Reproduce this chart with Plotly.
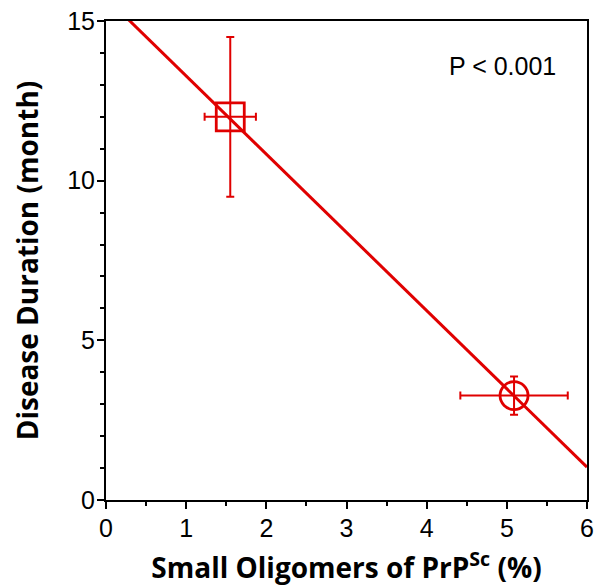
import plotly.graph_objects as go

# Data
group_x = [1.55, 5.09]          # small oligomers of PrPSc (%)
group_y = [12.0, 3.27]          # disease duration (month)
group_x_err = [0.32, 0.67]
group_y_err = [2.5, 0.6]
group_symbols = ["square-open", "circle-open"]

fit_slope = -2.45
fit_intercept = 15.73
fit_x = [0.0, 6.0]

x_ticks = [0, 1, 2, 3, 4, 5, 6]
y_ticks = [0, 5, 10, 15]

RED = "#e00000"

fig = go.Figure()

fig.add_trace(go.Scatter(
    x=fit_x,
    y=[fit_intercept + fit_slope * v for v in fit_x],
    mode="lines",
    line=dict(color=RED, width=3),
    showlegend=False,
    hoverinfo="skip",
))

for i in range(len(group_x)):
    fig.add_trace(go.Scatter(
        x=[group_x[i]], y=[group_y[i]],
        mode="markers",
        marker=dict(symbol=group_symbols[i], size=28,
                    color=RED, line=dict(color=RED, width=2.8)),
        error_x=dict(type="data", array=[group_x_err[i]], color=RED,
                     thickness=2, width=4),
        error_y=dict(type="data", array=[group_y_err[i]], color=RED,
                     thickness=2, width=4),
        showlegend=False,
        cliponaxis=False,
    ))

fig.add_annotation(
    x=0.94, y=0.94, xref="paper", yref="paper",
    xanchor="right", yanchor="top",
    text="P < 0.001", showarrow=False,
    font=dict(family="Liberation Sans, Arial", size=25, color="black"),
)

axis_common = dict(
    showline=True, linecolor="black", linewidth=2, mirror=True,
    ticks="outside", tickcolor="black", tickwidth=2, ticklen=7,
    showgrid=False, zeroline=False, automargin=False,
    tickfont=dict(family="Liberation Sans, Arial", size=25, color="black"),
)

fig.update_xaxes(
    range=[0, 6], tickvals=x_ticks,
    minor=dict(dtick=0.5, ticks="outside", ticklen=4, tickwidth=2, tickcolor="black"),
    title=dict(text="Small Oligomers of PrP<sup>Sc</sup> (%)", standoff=18,
               font=dict(family="Open Sans", size=28, color="black", weight="bold")),
    ticklabelstandoff=-2,
    **axis_common,
)
fig.update_yaxes(
    range=[0, 15], tickvals=y_ticks,
    minor=dict(dtick=1, ticks="outside", ticklen=4, tickwidth=2, tickcolor="black"),
    title=dict(text="Disease Duration (month)", standoff=20,
               font=dict(family="Open Sans", size=28, color="black", weight="bold")),
    ticklabelstandoff=-3,
    **axis_common,
)

fig.update_layout(
    width=596, height=586,
    margin=dict(l=106, r=9, t=21, b=86, autoexpand=False),
    plot_bgcolor="white", paper_bgcolor="white",
)

fig.write_html("out.html")
